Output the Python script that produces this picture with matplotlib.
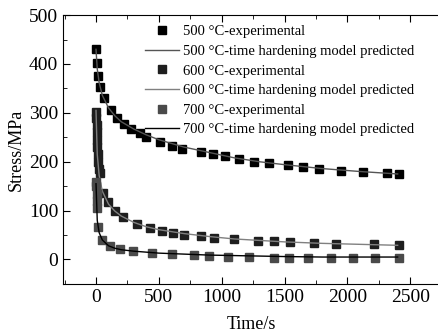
import numpy as np
import matplotlib
matplotlib.use('Agg')
import matplotlib.pyplot as plt
from matplotlib.ticker import MultipleLocator

plt.rcParams['font.family'] = ['Liberation Serif', 'DejaVu Serif']

# experimental points (time in s, stress in MPa)
t500 = [0, 5, 12, 32, 66, 120, 170, 220, 280, 350, 400, 510, 606, 686, 832, 928,
        1030, 1136, 1256, 1376, 1528, 1648, 1776, 1952, 2128, 2312, 2408]
s500 = [430, 402, 376, 352, 330, 305, 290, 278, 268, 258, 250, 240, 232, 226, 219, 215,
        211, 206, 200, 197, 193, 189, 186, 182, 179, 176, 174]

t600 = [0, 2, 4, 6, 8, 10, 12, 15, 20, 32, 56, 96, 152, 216, 328, 432, 528, 616, 704,
        832, 936, 1096, 1288, 1416, 1544, 1736, 1912, 2208, 2408]
s600 = [301, 290, 275, 260, 245, 230, 215, 200, 185, 176, 137, 117, 100, 86, 72, 64, 59, 55, 51,
        48, 44, 41, 37, 37, 35, 33, 31, 31, 29]

t700 = [0, 2, 4, 6, 8, 12, 48, 112, 192, 296, 448, 608, 776, 896, 1048, 1216,
        1416, 1536, 1688, 1872, 2048, 2216, 2408]
s700 = [158, 150, 135, 120, 105, 66, 39, 27, 22, 17, 14, 12, 10, 8, 6, 6,
        4, 4, 4, 4, 4, 4, 4]

# time hardening model predicted curves
tp = [0, 10, 25, 50, 100, 150, 200, 300, 400, 500, 700, 900, 1100, 1300, 1500, 1800, 2100, 2400]
p500 = [430, 390, 362, 336, 310, 294, 282, 267, 255, 245, 230, 219, 208, 200, 194, 186, 180, 175]
p600 = [305, 215, 172, 140, 113, 99, 89, 76, 67, 61, 53, 47, 42, 39, 36, 33, 31, 29]
p700 = [155, 80, 55, 40, 28, 23, 20, 17, 15, 13, 11, 9, 8, 7, 6, 5, 5, 5]

fig = plt.figure(figsize=(4.38, 3.36), dpi=100)
ax = fig.add_axes([0.144, 0.155, 0.86, 0.8])

ms = 5.5
ax.plot(t500, s500, 's', color='black', ms=ms, label='500 °C-experimental')
ax.plot(tp, p500, '-', color='#555555', lw=1.0, label='500 °C-time hardening model predicted')
ax.plot(t600, s600, 's', color='#1e1e1e', ms=ms, label='600 °C-experimental')
ax.plot(tp, p600, '-', color='#808080', lw=1.0, label='600 °C-time hardening model predicted')
ax.plot(t700, s700, 's', color='#4a4a4a', ms=ms, label='700 °C-experimental')
ax.plot(tp, p700, '-', color='black', lw=1.0, label='700 °C-time hardening model predicted')

ax.set_xlim(-262, 2735)
ax.set_ylim(-50, 500)
ax.xaxis.set_major_locator(MultipleLocator(500))
ax.xaxis.set_minor_locator(MultipleLocator(250))
ax.yaxis.set_major_locator(MultipleLocator(100))
ax.yaxis.set_minor_locator(MultipleLocator(50))
ax.tick_params(which='both', direction='in', top=True, right=False, labelsize=14)
ax.tick_params(which='major', length=5)
ax.tick_params(which='minor', length=3)
ax.spines['right'].set_visible(False)

ax.set_xlabel('Time/s', fontsize=13, labelpad=7)
ax.set_ylabel('Stress/MPa', fontsize=13, labelpad=3)

ax.legend(loc='upper left', frameon=False, fontsize=10.5, handlelength=2.3,
          handletextpad=0.3, labelspacing=0.44, borderaxespad=0, borderpad=0,
          bbox_to_anchor=(0.218, 0.963))

fig.savefig('out.png', dpi=100)
